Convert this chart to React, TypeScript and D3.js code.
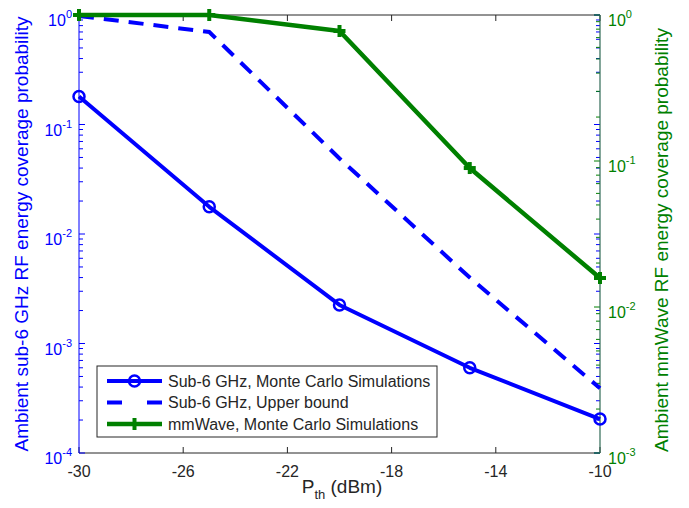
import React from "react";
import * as d3 from "d3";

const pth = [-30, -25, -20, -15, -10];
const sub6MC = [0.18, 0.0177, 0.00225, 0.0006, 0.000204];
const sub6Upper = [0.98, 0.7, 0.049, 0.004, 0.00039];
const mmWaveMC = [1.0, 1.0, 0.777, 0.0895, 0.0158];
const xTicks = [-30, -26, -22, -18, -14, -10];
const leftExps = [0, -1, -2, -3, -4];
const rightExps = [0, -1, -2, -3];
const legendLabels = [
  "Sub-6 GHz, Monte Carlo Simulations",
  "Sub-6 GHz, Upper bound",
  "mmWave, Monte Carlo Simulations",
];

const W = 689;
const H = 508;
const L = 79;
const R = 600;
const T = 15;
const B = 453;
const BLUE = "#0000ff";
const GREEN = "#008000";
const DARK = "#262626";
const FONT = "'Liberation Sans', Arial, Helvetica, sans-serif";

export default function App() {
  const x = d3.scaleLinear().domain([-30, -10]).range([L, R]);
  const yL = d3.scaleLog().domain([1e-4, 1]).range([B, T]);
  const yR = d3.scaleLog().domain([1e-3, 1]).range([B, T]);

  const lineL = d3
    .line<number>()
    .x((_, i) => x(pth[i]))
    .y((d) => yL(d));
  const lineR = d3
    .line<number>()
    .x((_, i) => x(pth[i]))
    .y((d) => yR(d));

  const minorTicks = (exps: number[]) => {
    const out: number[] = [];
    exps.slice(1).forEach((e) => {
      for (let k = 2; k <= 9; k++) out.push(k * Math.pow(10, e));
    });
    return out;
  };
  const leftMinor = minorTicks(leftExps);
  const rightMinor = minorTicks(rightExps);
  const tl = 6;

  return (
    <svg width={W} height={H} style={{ position: "absolute", left: 0, top: 0, background: "#fff" }} fontFamily={FONT}>
      <rect x={0} y={0} width={W} height={H} fill="#fff" />
      {/* borders */}
      <line x1={L} y1={T} x2={R} y2={T} stroke={DARK} strokeWidth={1} />
      <line x1={L} y1={B} x2={R} y2={B} stroke={DARK} strokeWidth={1} />
      {/* x ticks */}
      {xTicks.map((t) => (
        <g key={"xt" + t}>
          <line x1={x(t)} x2={x(t)} y1={B} y2={B - tl} stroke={DARK} />
          <line x1={x(t)} x2={x(t)} y1={T} y2={T + tl} stroke={DARK} />
          <text x={x(t)} y={477} fontSize={16} textAnchor="middle" fill={DARK}>
            {t}
          </text>
        </g>
      ))}
      {/* left axis ticks (mirrored at right) */}
      {leftExps.map((e) => {
        const v = Math.pow(10, e);
        return (
          <g key={"lt" + e}>
            <line x1={L} x2={L + tl} y1={yL(v)} y2={yL(v)} stroke={BLUE} />
            <line x1={R} x2={R - tl} y1={yL(v)} y2={yL(v)} stroke={BLUE} />
            <text x={72} y={yL(v) + 11} fontSize={16} textAnchor="end" fill={BLUE}>
              10
              <tspan dy={-8} fontSize={11}>{e}</tspan>
            </text>
          </g>
        );
      })}
      {leftMinor.map((v, i) => (
        <g key={"lm" + i}>
          <line x1={L} x2={L + 4} y1={yL(v)} y2={yL(v)} stroke={BLUE} />
          <line x1={R} x2={R - 4} y1={yL(v)} y2={yL(v)} stroke={BLUE} />
        </g>
      ))}
      {/* right axis ticks */}
      {rightExps.map((e) => {
        const v = Math.pow(10, e);
        return (
          <g key={"rt" + e}>
            <line x1={R} x2={R - tl} y1={yR(v)} y2={yR(v)} stroke={GREEN} />
            <text x={608} y={yR(v) + 11} fontSize={16} textAnchor="start" fill={GREEN}>
              10
              <tspan dy={-8} fontSize={11}>{e}</tspan>
            </text>
          </g>
        );
      })}
      {rightMinor.map((v, i) => (
        <line key={"rm" + i} x1={R} x2={R - 4} y1={yR(v)} y2={yR(v)} stroke={GREEN} />
      ))}
      <line x1={L} y1={T} x2={L} y2={B} stroke={BLUE} strokeWidth={1} />
      <line x1={R} y1={T} x2={R} y2={B} stroke="#2f6a55" strokeWidth={1.2} />

      {/* series */}
      <path d={lineL(sub6Upper) || ""} fill="none" stroke={BLUE} strokeWidth={4} strokeDasharray="15 10" />
      <path d={lineL(sub6MC) || ""} fill="none" stroke={BLUE} strokeWidth={4} strokeLinejoin="round" />
      {sub6MC.map((v, i) => (
        <circle key={"c" + i} cx={x(pth[i])} cy={yL(v)} r={5.5} fill="none" stroke={BLUE} strokeWidth={2.5} />
      ))}
      <path d={lineR(mmWaveMC) || ""} fill="none" stroke={GREEN} strokeWidth={4.5} strokeLinejoin="round" />
      {mmWaveMC.map((v, i) => {
        const cx = x(pth[i]);
        const cy = yR(v);
        return (
          <g key={"p" + i}>
            <line x1={cx - 6} x2={cx + 6} y1={cy} y2={cy} stroke={GREEN} strokeWidth={4} />
            <line x1={cx} x2={cx} y1={cy - 6} y2={cy + 6} stroke={GREEN} strokeWidth={4} />
          </g>
        );
      })}

      {/* axis labels */}
      <text transform="translate(28,234) rotate(-90)" fontSize={19} textAnchor="middle" fill={BLUE}>
        Ambient sub-6 GHz RF energy coverage probability
      </text>
      <text transform="translate(668,240) rotate(-90)" fontSize={19} textAnchor="middle" fill={GREEN}>
        Ambient mmWave RF energy coverage probability
      </text>
      <text x={342} y={493} fontSize={19} textAnchor="middle" fill={DARK}>
        P<tspan dy={6} fontSize={13}>th</tspan>
        <tspan dy={-6}> (dBm)</tspan>
      </text>

      {/* legend */}
      <g>
        <rect x={97} y={366} width={340} height={71} fill="#fff" stroke={DARK} strokeWidth={1} />
        {legendLabels.map((lab, i) => {
          const cy = 381 + i * 21.5;
          return (
            <g key={"lg" + i}>
              {i === 0 && (
                <>
                  <line x1={107} x2={162} y1={cy} y2={cy} stroke={BLUE} strokeWidth={4} />
                  <circle cx={134.5} cy={cy} r={5.5} fill="none" stroke={BLUE} strokeWidth={2.5} />
                </>
              )}
              {i === 1 && (
                <line x1={107} x2={162} y1={cy} y2={cy} stroke={BLUE} strokeWidth={4} strokeDasharray="15 25" />
              )}
              {i === 2 && (
                <>
                  <line x1={107} x2={162} y1={cy} y2={cy} stroke={GREEN} strokeWidth={4.5} />
                  <line x1={128.5} x2={140.5} y1={cy} y2={cy} stroke={GREEN} strokeWidth={4} />
                  <line x1={134.5} x2={134.5} y1={cy - 6} y2={cy + 6} stroke={GREEN} strokeWidth={4} />
                </>
              )}
              <text x={168} y={cy + 5.5} fontSize={16} fill={DARK}>
                {lab}
              </text>
            </g>
          );
        })}
      </g>
    </svg>
  );
}
